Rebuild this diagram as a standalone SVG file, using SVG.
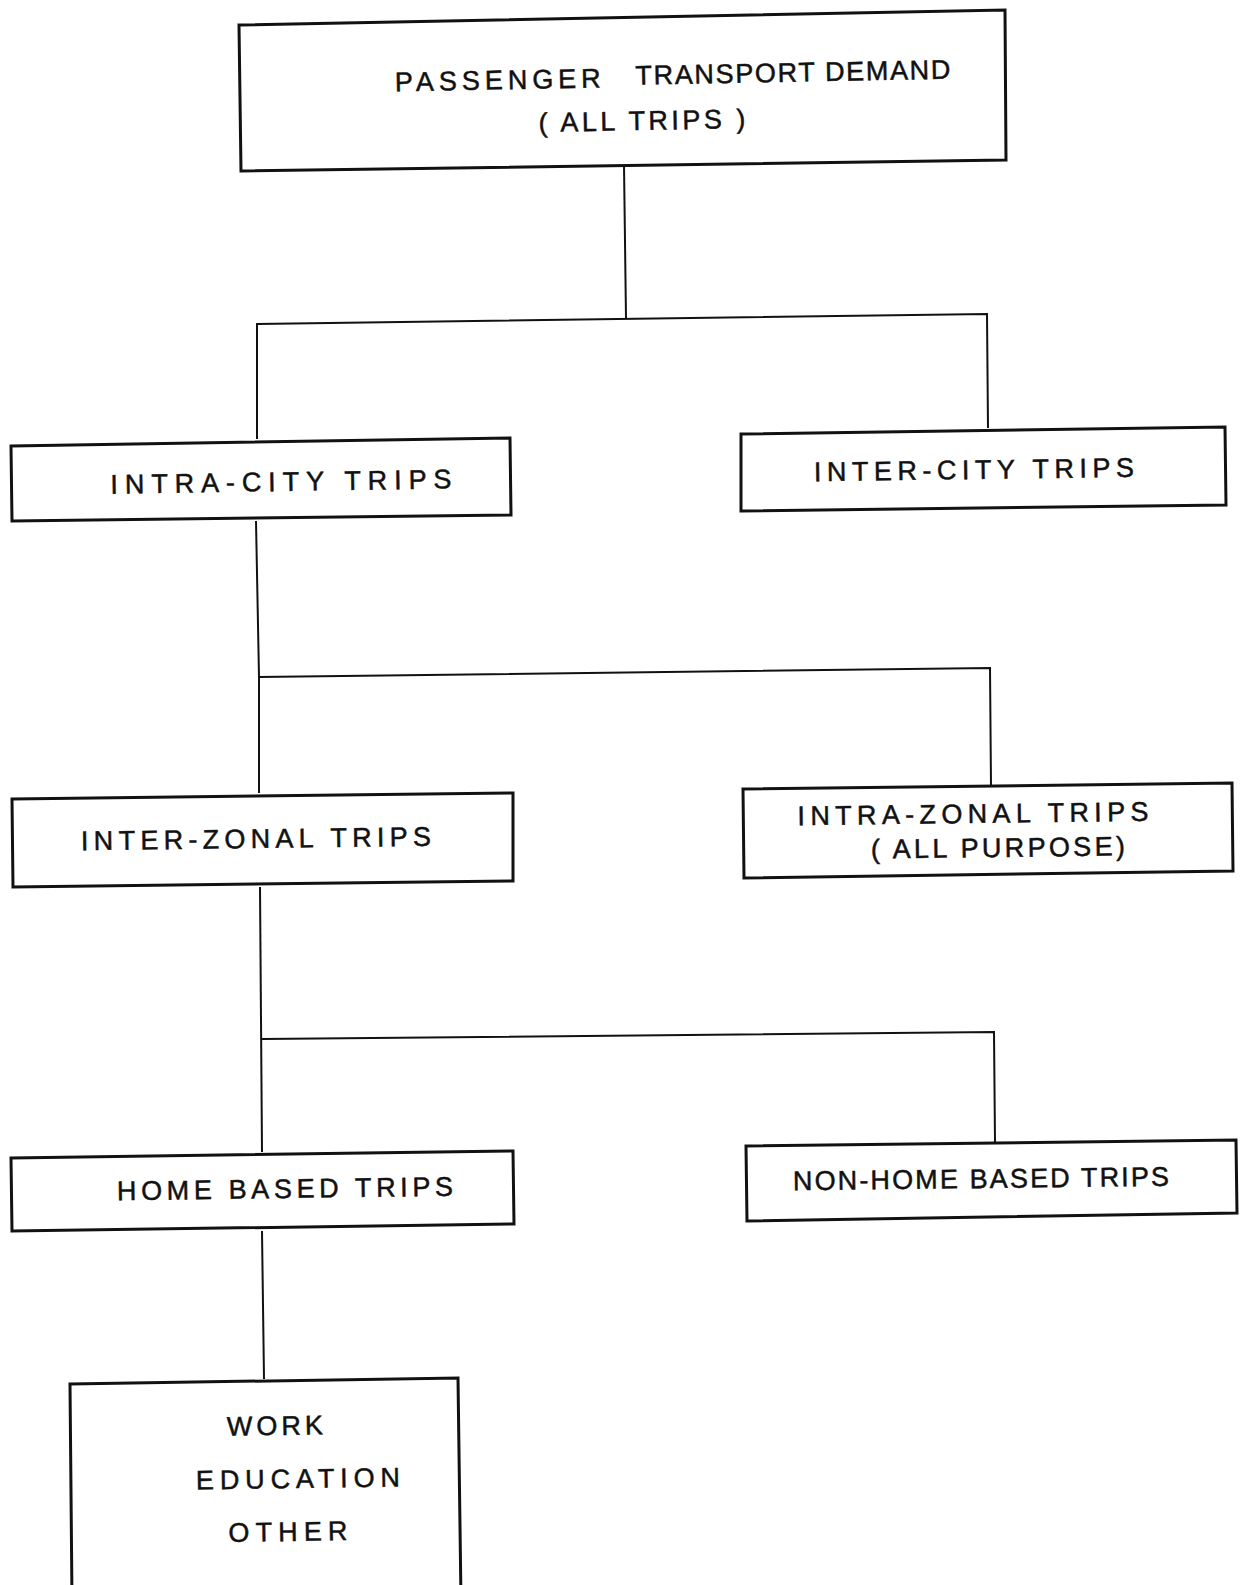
<svg xmlns="http://www.w3.org/2000/svg" width="1246" height="1585" viewBox="0 0 1246 1585">
  <style>
    .box { fill: #ffffff; stroke: #111111; stroke-width: 3; stroke-linejoin: miter; }
    .wire { fill: none; stroke: #111111; stroke-width: 2; }
    .lbl { font-family: "Liberation Sans", "DejaVu Sans", sans-serif; font-size: 27px; fill: #111111; stroke: #111111; stroke-width: 0.5; text-anchor: middle; }
  </style>
  <rect width="1246" height="1585" fill="#ffffff"/>

  <!-- connectors -->
  <g id="connectors">
    <polyline class="wire" points="624,165 626,318"/>
    <polyline class="wire" points="257,439 257,324 987,314 988,428"/>
    <polyline class="wire" points="256,521 259,677"/>
    <polyline class="wire" points="259,793 259,677 990,668 991,786"/>
    <polyline class="wire" points="260,887 262,1152"/>
    <polyline class="wire" points="262,1039 994,1032 995,1142"/>
    <polyline class="wire" points="262,1231 264,1379"/>
  </g>

  <g id="passenger-demand">
    <polygon class="box" points="239,25 1005,10 1006,160 241,171"/>
    <text class="lbl" transform="rotate(-1.1 672 80)">
      <tspan x="504" y="86" textLength="206" lengthAdjust="spacing">PASSENGER</tspan>
      <tspan x="793" y="84" textLength="315" lengthAdjust="spacing">TRANSPORT DEMAND</tspan>
    </text>
    <text class="lbl" x="642" y="130" textLength="207" lengthAdjust="spacing" transform="rotate(-1.1 642 124)">( ALL TRIPS )</text>
  </g>

  <g id="intra-city">
    <polygon class="box" points="11,446 510,438 511,515 12,521"/>
    <text class="lbl" x="281" y="491" textLength="341" lengthAdjust="spacing" transform="rotate(-0.9 281 485)">INTRA-CITY TRIPS</text>
  </g>

  <g id="inter-city">
    <polygon class="box" points="741,434 1225,427 1226,505 741,511"/>
    <text class="lbl" x="974" y="479" textLength="320" lengthAdjust="spacing" transform="rotate(-0.8 974 473)">INTER-CITY TRIPS</text>
  </g>

  <g id="inter-zonal">
    <polygon class="box" points="12,799 513,793 513,881 13,887"/>
    <text class="lbl" x="256" y="848" textLength="350" lengthAdjust="spacing" transform="rotate(-0.7 256 842)">INTER-ZONAL TRIPS</text>
  </g>

  <g id="intra-zonal">
    <polygon class="box" points="743,789 1232,783 1233,871 744,878"/>
    <text class="lbl" x="973" y="823" textLength="351" lengthAdjust="spacing" transform="rotate(-0.7 973 817)">INTRA-ZONAL TRIPS</text>
    <text class="lbl" x="998" y="857" textLength="254" lengthAdjust="spacing" transform="rotate(-0.7 998 851)">( ALL PURPOSE)</text>
  </g>

  <g id="home-based">
    <polygon class="box" points="11,1158 513,1151 514,1224 12,1231"/>
    <text class="lbl" x="285" y="1198" textLength="336" lengthAdjust="spacing" transform="rotate(-0.8 285 1192)">HOME BASED TRIPS</text>
  </g>

  <g id="non-home-based">
    <polygon class="box" points="746,1146 1236,1140 1237,1213 747,1221"/>
    <text class="lbl" x="981" y="1188" textLength="376" lengthAdjust="spacing" transform="rotate(-0.7 981 1182)">NON-HOME BASED TRIPS</text>
  </g>

  <g id="purposes">
    <polygon class="box" points="70,1384 458,1378 461,1600 72,1600"/>
    <text class="lbl" x="275" y="1435" textLength="96" lengthAdjust="spacing" transform="rotate(-0.9 275 1429)">WORK</text>
    <text class="lbl" x="298" y="1488" textLength="204" lengthAdjust="spacing" transform="rotate(-0.9 298 1482)">EDUCATION</text>
    <text class="lbl" x="288" y="1541" textLength="119" lengthAdjust="spacing" transform="rotate(-0.9 288 1535)">OTHER</text>
  </g>
</svg>
